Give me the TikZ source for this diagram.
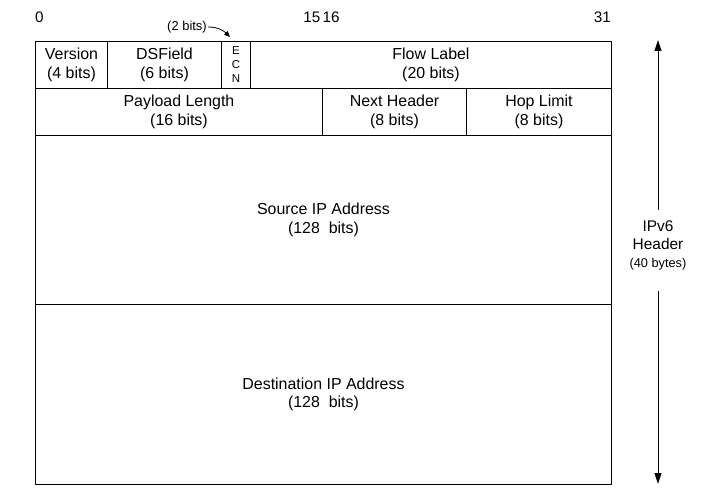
\documentclass[tikz,border=0pt]{standalone}
\usepackage{fontspec}
\setmainfont{Liberation Sans}
\usetikzlibrary{arrows.meta}
\begin{document}
\begin{tikzpicture}[x=1bp, y=-1bp, line join=round,
    field/.style={draw, line width=1bp, anchor=north west, inner sep=0pt,
      align=center, minimum height=47bp, font=\fontsize{16}{18.5}\selectfont},
    bitno/.style={inner sep=0pt, font=\fontsize{15.3}{18}\selectfont},
    small/.style={inner sep=1bp, font=\fontsize{13}{15}\selectfont}]
  \useasboundingbox (0,0) rectangle (711,496);
  % --- bit numbers -----------------------------------------------
  \node[bitno, anchor=west] (b0)  at (35,17)    {0};
  \node[bitno, anchor=east] (b15) at (320.5,17) {15};
  \node[bitno, anchor=west] (b16) at (322.5,17) {16};
  \node[bitno, anchor=east] (b31) at (611,17)   {31};
  % --- first word ------------------------------------------------
  \node[field, minimum width=72bp]  (version) at (35,41)  {Version\\(4 bits)};
  \node[field, minimum width=114bp] (dsfield) at (107,41) {DSField\\(6 bits)};
  \node[field, minimum width=29bp, font=\fontsize{11.5}{14}\selectfont]
    (ecn) at (221,41) {E\\C\\N};
  \node[field, minimum width=361bp] (flow)    at (250,41) {Flow Label\\(20 bits)};
  % --- second word -----------------------------------------------
  \node[field, minimum width=287bp] (payload) at (35,88)  {Payload Length\\(16 bits)};
  \node[field, minimum width=144bp] (next)    at (322,88) {Next Header\\(8 bits)};
  \node[field, minimum width=145bp] (hop)     at (466,88) {Hop Limit\\(8 bits)};
  % --- addresses -------------------------------------------------
  \node[field, minimum width=576bp, minimum height=169bp]
    (source) at (35,135) {Source IP Address\\(128\ \ bits)};
  \node[field, minimum width=576bp, minimum height=180bp]
    (dest) at (35,304) {Destination IP Address\\(128\ \ bits)};
  % --- ecn width -------------------------------------------------
  \node[small] (twobits) at (187,27) {(2 bits)};
  \draw[-{Triangle[length=6bp,width=5bp]}, line width=0.8bp]
    (twobits.east) to[out=0, in=135] ([shift={(-6,-4)}]ecn.north);
  % --- header length ---------------------------------------------
  \node[align=center, inner sep=0pt, font=\fontsize{15.5}{18}\selectfont]
    (hdr) at (658,245) {IPv6\\Header\\{\fontsize{12.8}{15}\selectfont (40 bytes)}};
  \coordinate (htop) at (658,40);
  \coordinate (hbot) at (658,484);
  \draw[-{Triangle[length=11bp,width=7bp]}, line width=1bp]
    ([yshift=10bp]hdr.north) -- (htop);
  \draw[-{Triangle[length=11bp,width=7bp]}, line width=1bp]
    ([yshift=-21bp]hdr.south) -- (hbot);
\end{tikzpicture}
\end{document}
